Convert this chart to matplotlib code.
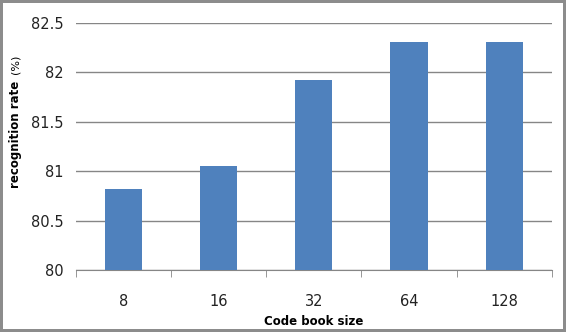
import matplotlib
matplotlib.use('Agg')
import matplotlib.pyplot as plt
import numpy as np

sizes = ['8', '16', '32', '64', '128']
rates = [80.82, 81.05, 81.92, 82.31, 82.31]
yticks = [80, 80.5, 81, 81.5, 82, 82.5]

fig = plt.figure(figsize=(5.66, 3.32), dpi=100)
fig.patch.set_edgecolor('#8c8c8c')
fig.patch.set_linewidth(4)
ax = fig.add_axes([0.134, 0.187, 0.841, 0.744])

x = np.arange(len(sizes))
ax.bar(x, rates, width=0.39, color='#4f81bd', zorder=3)
ax.set_ylim(80, 82.5)
ax.set_xlim(-0.5, len(sizes) - 0.5)
ax.set_yticks(yticks)
ax.set_yticklabels(['80', '80.5', '81', '81.5', '82', '82.5'], fontsize=10.5, color='#222222')
ax.yaxis.grid(True, color='#868686', linewidth=1, zorder=0)
ax.tick_params(axis='y', length=0, pad=9)

ax.set_xticks(x)
ax.set_xticklabels(sizes, fontsize=10.5, color='#222222')
ax.set_xticks(np.arange(-0.5, len(sizes)), minor=True)
ax.tick_params(axis='x', which='major', length=0, pad=17)
ax.tick_params(axis='x', which='minor', length=5, color='#868686')

for s in ['top', 'right', 'left']:
    ax.spines[s].set_visible(False)
ax.spines['bottom'].set_color('#868686')

ax.set_xlabel('Code book size', fontsize=8.5, fontweight='bold', labelpad=5)
fig.text(0.027, 0.595, 'recognition rate', rotation=90, fontsize=8.5,
         fontweight='bold', ha='center', va='center')
fig.text(0.027, 0.805, '(%)', rotation=90, fontsize=8, ha='center', va='center')

fig.savefig('out.png', dpi=100)
